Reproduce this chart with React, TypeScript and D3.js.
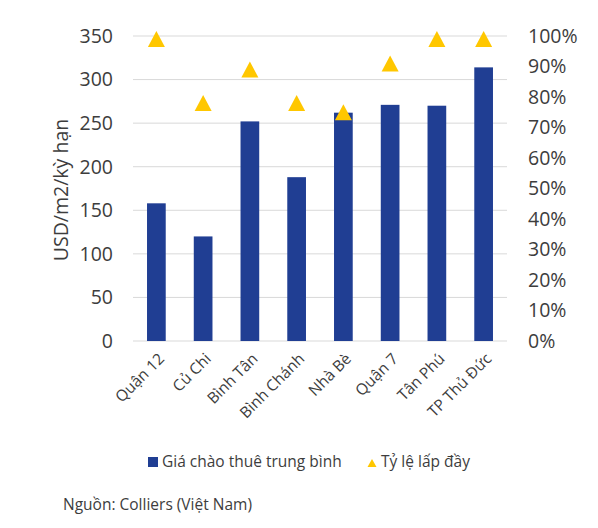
import React from "react";
import * as d3 from "d3";

const categories = ["Quận 12", "Củ Chi", "Bình Tân", "Bình Chánh", "Nhà Bè", "Quận 7", "Tân Phú", "TP Thủ Đức"];
const prices = [158, 120, 252, 188, 262, 271, 270, 314];
const occupancy = [0.99, 0.78, 0.89, 0.78, 0.75, 0.91, 0.99, 0.99];
const leftTicks = [0, 50, 100, 150, 200, 250, 300, 350];
const rightTicks = [0, 0.1, 0.2, 0.3, 0.4, 0.5, 0.6, 0.7, 0.8, 0.9, 1.0];

const W = 598;
const H = 528;
const plot = { left: 133, right: 507, top: 36, bottom: 341 };
const FONT = "'Open Sans', sans-serif";
const TEXT = "#3d3d3d";
const BAR = "#203E93";
const TRI = "#FFC700";

function triPath(w: number, h: number) {
  const p = d3.path();
  p.moveTo(0, -h / 2);
  p.lineTo(w / 2, h / 2);
  p.lineTo(-w / 2, h / 2);
  p.closePath();
  return p.toString();
}

export default function App() {
  const x = d3.scaleBand<string>().domain(categories).range([plot.left, plot.right]).paddingInner(0.6).paddingOuter(0.3);
  const yL = d3.scaleLinear().domain([0, 350]).range([plot.bottom, plot.top]);
  const yR = d3.scaleLinear().domain([0, 1]).range([plot.bottom, plot.top]);
  const tri = triPath(17, 16);
  const triSmall = triPath(9, 8);
  const pct = d3.format(".0%");

  return (
    <div style={{ position: "fixed", left: 0, top: 0 }}>
      <svg width={W} height={H} style={{ display: "block", background: "#fff" }} fontFamily={FONT}>
        {leftTicks.map((t) => (
          <line key={"g" + t} x1={plot.left} x2={plot.right} y1={yL(t)} y2={yL(t)} stroke="#D9D9D9" strokeWidth={1} />
        ))}
        {leftTicks.map((t) => (
          <text key={"l" + t} x={113} y={yL(t)} dy="0.35em" textAnchor="end" fontSize={19.5} fill={TEXT}>
            {t}
          </text>
        ))}
        {rightTicks.map((t) => (
          <text key={"r" + t} x={528} y={yR(t)} dy="0.35em" textAnchor="start" fontSize={19.5} fill={TEXT}>
            {pct(t)}
          </text>
        ))}
        <text
          transform={`translate(61,190) rotate(-90)`}
          textAnchor="middle"
          dy="0.35em"
          fontSize={19.5}
          fill={TEXT}
        >
          USD/m2/kỳ hạn
        </text>
        {categories.map((c, i) => (
          <rect
            key={"b" + c}
            x={x(c)!}
            y={yL(prices[i])}
            width={x.bandwidth()}
            height={yL(0) - yL(prices[i])}
            fill={BAR}
          />
        ))}
        {categories.map((c, i) => (
          <path
            key={"t" + c}
            d={tri}
            transform={`translate(${x(c)! + x.bandwidth() / 2},${yR(occupancy[i])})`}
            fill={TRI}
          />
        ))}
        {categories.map((c) => {
          const cx = x(c)! + x.bandwidth() / 2 + 5;
          return (
            <text
              key={"x" + c}
              transform={`translate(${cx},${plot.bottom + 15}) rotate(-45)`}
              textAnchor="end"
              dy="0.35em"
              fontSize={15.5}
              fill={TEXT}
            >
              {c}
            </text>
          );
        })}
        <rect x={148} y={457} width={10} height={10} fill={BAR} />
        <text x={162} y={462} dy="0.35em" fontSize={15.5} fill={TEXT}>
          Giá chào thuê trung bình
        </text>
        <path d={triSmall} transform="translate(372,463)" fill={TRI} />
        <text x={381} y={462} dy="0.35em" fontSize={15.5} fill={TEXT}>
          Tỷ lệ lấp đầy
        </text>
        <text x={63} y={505} dy="0.35em" fontSize={15.5} fill={TEXT}>
          Nguồn: Colliers (Việt Nam)
        </text>
      </svg>
    </div>
  );
}
